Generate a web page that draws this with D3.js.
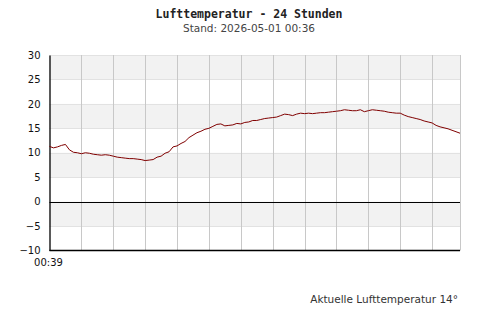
<!DOCTYPE html>
<html>
<head>
<meta charset="utf-8">
<script src="https://cdn.jsdelivr.net/npm/d3@7"></script>
<style>
  body { margin: 0; background: #fff; }
</style>
</head>
<body>
<div id="chart"></div>
<script>
// temperature readings, one every 15 minutes starting at 00:39
const temps = [
  11.3, 11.0, 11.2, 11.5, 11.7, 10.6, 10.1, 10.0, 9.8, 10.0,
  9.9, 9.7, 9.6, 9.5, 9.6, 9.5, 9.3, 9.1, 9.0, 8.9,
  8.8, 8.8, 8.7, 8.6, 8.4, 8.5, 8.6, 9.1, 9.3, 9.9,
  10.2, 11.2, 11.4, 11.9, 12.3, 13.1, 13.6, 14.1, 14.4, 14.8,
  15.0, 15.4, 15.8, 15.9, 15.5, 15.6, 15.7, 16.0, 15.9, 16.2,
  16.3, 16.6, 16.6, 16.8, 17.0, 17.1, 17.2, 17.3, 17.6, 17.9,
  17.8, 17.6, 17.9, 18.1, 18.0, 18.1, 18.0, 18.1, 18.2, 18.2,
  18.3, 18.4, 18.5, 18.6, 18.8, 18.7, 18.6, 18.6, 18.8, 18.4,
  18.6, 18.8, 18.7, 18.6, 18.5, 18.3, 18.2, 18.1, 18.1, 17.7,
  17.4, 17.2, 17.0, 16.8, 16.5, 16.3, 16.1, 15.6, 15.3, 15.1,
  14.9, 14.6, 14.3, 14.0
];
const stepMinutes = 15;
const yTicks = [-10, -5, 0, 5, 10, 15, 20, 25, 30];
const shadedBands = [25, 15, 5, -5]; // lower edge of grey bands
const gridMinutes = [120, 240, 360, 480, 600, 720, 840, 960, 1080, 1200, 1320, 1440, 1545];
const startLabel = "00:39";
const title = "Lufttemperatur - 24 Stunden";
const subtitle = "Stand: 2026-05-01 00:36";
const footer = "Aktuelle Lufttemperatur 14°";

const svgWidth = 500;
const svgHeight = 320;

const svg = d3.select("#chart")
  .append("svg")
  .attr("width", svgWidth)
  .attr("height", svgHeight)
  .style("font-family", "DejaVu Sans");

const x = d3.scaleLinear()
  .domain([0, 1545])
  .range([49.5, 460]);

const y = d3.scaleLinear()
  .domain([-10, 30])
  .range([250.5, 55]);

// grey bands
svg.append("g")
  .selectAll("rect")
  .data(shadedBands)
  .enter()
  .append("rect")
  .attr("x", x(0))
  .attr("width", x(1545) - x(0))
  .attr("y", d => y(d + 5))
  .attr("height", d => y(d) - y(d + 5))
  .attr("fill", "#f2f2f2");

// horizontal grid
svg.append("g")
  .selectAll("line")
  .data(yTicks.filter(d => d !== 0 && d !== -10))
  .enter()
  .append("line")
  .attr("x1", x(0))
  .attr("x2", x(1545))
  .attr("y1", d => Math.round(y(d)) + 0.5)
  .attr("y2", d => Math.round(y(d)) + 0.5)
  .attr("stroke", "#e2e2e2");

// vertical grid
svg.append("g")
  .selectAll("line")
  .data(gridMinutes)
  .enter()
  .append("line")
  .attr("x1", d => Math.round(x(d)) + 0.5)
  .attr("x2", d => Math.round(x(d)) + 0.5)
  .attr("y1", y(30))
  .attr("y2", y(-10))
  .attr("stroke", "#c8c8c8");

// zero line
svg.append("line")
  .attr("x1", x(0))
  .attr("x2", x(1545))
  .attr("y1", Math.round(y(0)) + 0.5)
  .attr("y2", Math.round(y(0)) + 0.5)
  .attr("stroke", "#000")
  .attr("stroke-width", 1.2);

// axes
const leftAxis = d3.axisLeft(y).tickValues(yTicks).tickSize(0).tickPadding(9);
svg.append("g")
  .attr("transform", `translate(${x(0)},0)`)
  .call(leftAxis)
  .call(g => g.select(".domain").attr("stroke", "#000").attr("stroke-width", 1.3))
  .call(g => g.selectAll("text").attr("font-size", "10px").attr("fill", "#111")
    .attr("font-family", "DejaVu Sans"));

svg.append("line")
  .attr("x1", x(0))
  .attr("x2", x(1545))
  .attr("y1", y(-10))
  .attr("y2", y(-10))
  .attr("stroke", "#000")
  .attr("stroke-width", 1.3);

svg.append("text")
  .attr("x", x(0) - 1)
  .attr("y", 266)
  .attr("text-anchor", "middle")
  .attr("font-size", "10px")
  .attr("fill", "#111")
  .text(startLabel);

// temperature line
const line = d3.line()
  .x((d, i) => x(i * stepMinutes))
  .y(d => y(d));

svg.append("path")
  .datum(temps)
  .attr("d", line)
  .attr("fill", "none")
  .attr("stroke", "#800000")
  .attr("stroke-width", 1);

// titles
svg.append("text")
  .attr("x", 249)
  .attr("y", 18)
  .attr("text-anchor", "middle")
  .style("font-family", "DejaVu Sans Mono")
  .attr("font-weight", "bold")
  .attr("font-size", "11.5px")
  .attr("fill", "#222")
  .text(title);

svg.append("text")
  .attr("x", 249)
  .attr("y", 32)
  .attr("text-anchor", "middle")
  .attr("font-size", "10.5px")
  .attr("fill", "#444")
  .text(subtitle);

svg.append("text")
  .attr("x", 458)
  .attr("y", 303)
  .attr("text-anchor", "end")
  .attr("font-size", "10.5px")
  .attr("fill", "#333")
  .text(footer);
</script>
</body>
</html>
